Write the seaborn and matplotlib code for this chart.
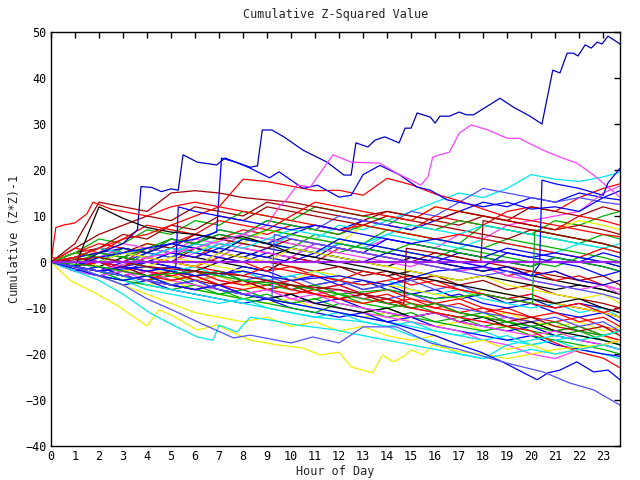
import pandas as pd
import numpy as np
import matplotlib
matplotlib.use("Agg")
import matplotlib.pyplot as plt
import seaborn as sns

# gnuplot-like line colours
RED = "#ff0000"
GREEN = "#00b000"
BLUE = "#0000ff"
MAGENTA = "#ff40ff"
CYAN = "#00e8f0"
DARKRED = "#a00000"
YELLOW = "#f0f000"
BLACK = "#000000"
SLATE = "#5050ff"
NAVY = "#0000c0"

# hourly grid for most runs
hours = list(range(24)) + [23.7]

b01 = [0, 2, 4, 3, 2, 4, 6, 5, 7, 6, 8, 7, 6, 9, 8, 7, 10, 9, 8, 11, 12, 11, 14, 16, 17]
b02 = [0, 1, 0, -1, 2, 1, 3, 2, 5, 4, 3, 6, 5, 4, 7, 6, 5, 4, 8, 7, 6, 9, 8, 10, 11]
b03 = [0, -1, -2, 0, 2, 5, 4, 6, 5, 4, 6, 8, 7, 9, 8, 7, 9, 11, 13, 12, 14, 13, 15, 14, 15.5]
b04 = [0, 1, 3, 2, 1, 0, 2, 1, 4, 3, 6, 5, 4, 3, 5, 4, 3, 6, 5, 8, 9, 10, 11, 15, 16.5]
b05 = [0, -1, 1, 3, 2, 4, 3, 5, 4, 3, 6, 5, 8, 7, 9, 11, 13, 15, 14, 16, 19, 18, 17.5, 18.5, 19.5]
b06 = [0, 3, 6, 8, 10, 9, 12, 11, 10, 13, 12, 11, 10, 9, 11, 10, 9, 8, 10, 9, 12, 11, 10, 12, 11]
b07 = [0, 1, 2, 1, 4, 3, 2, 5, 4, 7, 6, 5, 4, 8, 10, 9, 12, 11, 10, 9, 8, 7, 9, 8, 7]
b08 = [0, 0, -1, 1, 0, -1, -2, 0, -1, -2, 1, 0, -1, -2, -3, -2, -3, -4, -3, -4, -5, -6, -5, -6, -7]
b09 = [0, 2, 1, 3, 2, 1, 4, 7, 6, 9, 8, 7, 10, 9, 8, 11, 10, 13, 16, 15, 14, 13, 14, 13, 12.5]
b10 = [0, -1, -2, -3, -2, -3, -4, -3, -5, -4, -6, -5, -4, -6, -5, -7, -6, -8, -7, -9, -8, -10, -9, -10, -11]
b11 = [1, 0, -1, -3, -2, -4, -3, -5, -4, -6, -5, -7, -6, -8, -7, -9, -10, -9, -11, -10, -12, -13, -12, -14, -15]
b12 = [0, -2, -1, -3, -4, -3, -5, -6, -8, -7, -9, -8, -10, -11, -10, -12, -13, -12, -14, -13, -15, -16, -15, -17, -18]
b13 = [0, -1, -3, -2, 0, -1, -2, -3, -1, -2, -4, -3, -5, -4, -6, -7, -8, -7, -9, -10, -9, -11, -12, -11, -13]
b14 = [0, -1, 0, -2, -1, -3, -2, -4, -5, -4, -6, -7, -6, -8, -9, -10, -11, -12, -13, -12, -14, -13, -15, -16, -17]
b15 = [0, -1, -2, -4, -3, -5, -6, -7, -6, -8, -9, -10, -11, -12, -13, -14, -15, -16, -15, -17, -18, -17, -19, -20, -21]
b16 = [0, 1, 0, 2, 1, 0, 3, 2, 1, 0, -1, -2, -1, -3, -2, -4, -3, -5, -4, -6, -5, -7, -8, -9, -10]
b17 = [0, -1, -2, -3, -5, -4, -6, -7, -8, -9, -8, -10, -11, -12, -11, -13, -14, -13, -15, -14, -16, -15, -17, -16, -18]
b18 = [0, 1, 2, 1, 3, 2, 1, 0, 2, 1, 3, 2, 1, 0, -1, 1, 0, -1, -2, -1, -3, -4, -5, -6, -7]
b19 = [0, -1, -2, -1, -3, -2, -4, -3, -2, -4, -3, -5, -4, -6, -5, -4, -6, -5, -7, -8, -7, -9, -10, -11, -12]
b20 = [0, 1, 0, -1, 1, 0, -1, 2, 1, 3, 2, 1, 4, 3, 2, 1, 0, 2, 1, 0, -1, 1, 0, -1, -2]
b21 = [0, 2, 1, 0, 3, 2, 1, 4, 3, 2, 1, 0, 3, 2, 1, 0, -1, -2, -1, -3, -2, -4, -3, -5, -6]
b22 = [0, 1, 2, 1, 0, 2, 4, 3, 6, 5, 4, 3, 2, 4, 3, 2, 1, 3, 2, 1, 0, -1, 1, 0, -1]
b23 = [0, -2, -3, -5, -4, -6, -7, -8, -9, -8, -10, -11, -12, -11, -13, -12, -14, -15, -16, -17, -16, -18, -19, -20, -20.5]
b24 = [0, 2, 1, 3, 2, 5, 4, 3, 6, 5, 4, 3, 2, 1, 0, -1, 1, 0, -1, -2, -3, -2, -4, -5, -6]
b25 = [0, -1, 1, 0, -1, -2, -1, -3, -2, -4, -3, -2, -4, -5, -4, -6, -7, -6, -8, -9, -10, -9, -11, -10, -12]
b26 = [0, 2, 3, 2, 4, 3, 6, 5, 4, 3, 5, 4, 3, 2, 1, 0, 2, 1, 0, -1, -2, -3, -4, -3, -5]
b27 = [0, 1, -1, -2, -1, -3, -4, -3, -5, -6, -5, -7, -8, -9, -8, -10, -9, -11, -12, -11, -13, -14, -13, -15, -14]
b28 = [0, -1, -2, -4, -5, -6, -5, -7, -8, -9, -10, -11, -9, -10, -12, -11, -13, -14, -15, -14, -16, -17, -18, -19, -20]
b29 = [0, 1, 3, 2, 1, 0, -1, 1, 0, -2, -1, -3, -4, -2, -3, -5, -4, -6, -7, -8, -7, -9, -10, -11, -12]
b30 = [0, -1, 0, 2, 1, 3, 2, 1, 0, 2, 1, 4, 3, 2, 5, 4, 3, 2, 1, 3, 2, 1, 0, 2, 1]
b31 = [0, 1, 0, 2, 3, 2, 4, 3, 5, 4, 3, 2, 4, 3, 6, 5, 4, 3, 5, 4, 3, 2, 4, 3, 2]
b32 = [0, -1, -2, -3, -2, -4, -5, -6, -7, -6, -8, -9, -10, -11, -12, -13, -14, -15, -17, -18, -20, -21, -19, -18, -17]
b33 = [0, 1, 0, 3, 2, 5, 4, 7, 6, 9, 8, 7, 6, 8, 7, 6, 5, 4, 3, 5, 4, 3, 2, 1, 0]
b34 = [0, -1, -2, -3, -4, -2, -3, -5, -4, -6, -7, -6, -8, -7, -9, -8, -10, -11, -10, -12, -13, -15, -14, -16, -17]
b35 = [0, 2, 5, 4, 7, 6, 9, 8, 11, 10, 9, 12, 11, 10, 9, 8, 7, 9, 8, 7, 6, 5, 4, 6, 5]
b36 = [0, 1, 3, 6, 5, 8, 7, 10, 9, 12, 11, 10, 9, 8, 10, 9, 8, 7, 6, 5, 7, 6, 5, 4, 3]
b37 = [0, 3, 2, 5, 8, 7, 6, 9, 8, 7, 10, 13, 12, 11, 10, 9, 12, 11, 10, 9, 8, 7, 10, 9, 8]
b38 = [0, -2, -1, -3, -4, -5, -4, -6, -7, -8, -7, -9, -8, -10, -11, -12, -11, -13, -14, -15, -14, -16, -17, -18, -19]
b39 = [0, 1, 2, 4, 3, 2, 5, 4, 3, 2, 1, 4, 3, 2, 1, 0, -1, -2, -1, -3, -4, -5, -6, -5, -7]
b40 = [0, -2, -3, -4, -6, -7, -8, -9, -8, -10, -11, -12, -11, -13, -14, -13, -15, -16, -17, -16, -18, -17, -16, -17, -18]
b41 = [0, 2, 1, 0, -1, 1, 0, -1, -2, -3, -4, -2, -3, -4, -5, -6, -7, -8, -6, -7, -8, -9, -10, -11, -12]
b42 = [0, -1, -3, -4, -3, -5, -6, -7, -6, -8, -9, -8, -7, -9, -10, -9, -11, -12, -11, -13, -14, -15, -14, -16, -15]
b43 = [0, 1, 0, -1, -2, -1, -3, -2, -4, -3, -5, -6, -5, -7, -8, -7, -9, -10, -11, -12, -13, -12, -14, -13, -15]
b44 = [0, -1, 0, -2, -3, -4, -3, -5, -6, -5, -4, -6, -5, -7, -6, -8, -9, -8, -10, -11, -12, -11, -13, -12, -14]
b45 = [0, 1, 2, 3, 2, 4, 3, 2, 5, 4, 3, 2, 1, 0, 2, 1, 0, -1, -2, -1, -3, -2, -4, -5, -4]
b46 = [0, -1, -2, -1, -3, -2, -4, -5, -4, -6, -5, -7, -8, -7, -9, -10, -9, -11, -12, -13, -12, -14, -15, -14, -16]
b47 = [0, -1, -2, -3, -4, -5, -6, -5, -7, -8, -7, -9, -10, -11, -10, -12, -11, -13, -12, -14, -13, -15, -16, -17, -18]
b48 = [0, 0, 2, 1, 3, 5, 4, 6, 5, 7, 6, 5, 4, 3, 2, 4, 3, 2, 1, 0, -1, 1, 0, -1, -2]
b49 = [0, 1, 3, 2, 1, 3, 2, 4, 3, 5, 7, 6, 5, 4, 6, 8, 7, 6, 8, 7, 6, 5, 4, 3, 4]
b50 = [0, -2, -3, -2, -4, -5, -6, -5, -7, -6, -8, -7, -9, -10, -11, -12, -11, -13, -14, -15, -16, -15, -17, -18, -19]
b51 = [0, 1, 0, -1, 0, 2, 1, 3, 2, 1, 0, 2, 5, 4, 3, 2, 1, 0, -1, 2, 1, 0, -1, -3, -2]
b52 = [0, -1, -2, -1, 1, 0, -1, -2, -3, -1, -2, -3, -4, -5, -4, -3, -5, -6, -7, -8, -9, -10, -9, -11, -10]
b53 = [0, 1, 0, 2, 1, 0, -1, 2, 1, 0, 3, 2, 1, 0, -1, -2, -3, -4, -3, -5, -6, -7, -8, -7, -9]
b54 = [0, 2, 1, 0, -1, -2, -3, -2, -4, -5, -6, -5, -7, -8, -9, -10, -9, -11, -12, -13, -14, -13, -15, -16, -15]
u_darkred = [0, 4, 13, 12, 11, 15, 15.5, 15, 14, 13.5, 13, 12, 11, 10, 11, 10, 9, 11, 10, 9, 8, 7, 8, 7, 6]
u_black = [0, -1, 12, 9.5, 7.5, 6.5, 6, 5, 5.5, 4, 2, 1, 0, -1, -2, -3, -4, -5, -6, -7, -8, -9, -8, -10, -11]
u_red = [0, 1, 3, 5, 6, 8, 10, 12, 18, 17.5, 16.5, 15.5, 15.6, 14.5, 18.2, 16.8, 14.8, 13.3, 11.5, 9.8, 9, 8, 7, 6, 5.5]
low_red = [0, 1, 0, -1, -2, -3, -2, -4, -5, -4, -6, -7, -8, -9, -8, -10, -11, -12, -13, -14, -15, -17.6, -19.6, -20.9, -23]
low_yellow = [0, -1, -3, -5, -7, -9, -11, -12, -13, -12, -14, -13, -15, -14, -16, -17, -16, -18, -17, -19, -18, -20, -19, -18, -17]
low_cyan = [0, -1, -2, -3, -5, -6, -7, -8, -9, -10, -11, -12, -12.5, -13, -14, -16, -17.5, -20, -21, -18, -17, -16, -17, -16, -15]

# runs that need their own time points
top_h = [0, 1, 2, 3, 3.6, 3.75, 4.2, 4.6, 5.0, 5.3, 5.5, 6.1, 6.9, 7.25, 7.7, 8.3, 8.6, 8.8, 9.2, 9.7,
         10.5, 11.5, 12.2, 12.5, 12.7, 13.2, 13.5, 13.9, 14.5, 14.75, 15.0, 15.25, 15.8, 16.0, 16.2, 16.6,
         17.0, 17.3, 17.6, 18.4, 18.7, 19.25, 19.95, 20.45, 20.9, 21.2, 21.5, 21.75, 21.95, 22.25, 22.5,
         22.75, 22.95, 23.2, 23.7]
top_v = [0, -1, 2, 4, 7, 16.4, 16.2, 15.3, 15.9, 15.6, 23.3, 21.7, 21.1, 22.6, 21.7, 20.6, 20.9, 28.7, 28.7, 27.2,
         24.3, 21.7, 18.9, 18.9, 25.9, 25.0, 26.5, 27.2, 25.9, 29.1, 29.1, 32.4, 31.5, 30.2, 31.7, 31.7,
         32.6, 32.0, 32.0, 34.6, 35.6, 33.7, 31.7, 30.0, 41.7, 41.1, 45.4, 45.4, 44.8, 47.2, 46.5,
         47.8, 47.4, 49.1, 47.4]

blue2_h = [0, 1, 2, 3, 4, 5, 6, 6.9, 7.1, 7.7, 8.3, 9.1, 9.5, 10.5, 11.1, 12, 12.5, 13, 13.7, 14.5,
           15.25, 15.8, 16.5, 18, 19, 20, 21, 22, 23, 23.7]
blue2_v = [0, -1, 1, 2, 3, 4, 5, 6.5, 22.6, 21.7, 20.4, 18.3, 19.6, 16, 16.7, 14.1, 14.5, 19, 21, 19,
           16.3, 15.6, 13.5, 12, 13, 11.5, 12, 11, 14, 13.5]

mag_h = [0, 2, 4, 6, 8, 9, 9.5, 9.8, 10.25, 10.8, 11.3, 11.75, 12.5, 13.7, 14.4, 15, 15.4, 15.7, 15.9,
         16.2, 16.6, 17.0, 17.5, 18.2, 19, 19.5, 20.5, 21.3, 21.9, 22.6, 23.7]
mag_v = [0, -2, 1, 3, 6, 8, 12, 13.5, 16.7, 16.3, 20, 23.3, 21.7, 21.5, 19.3, 17.8, 16.7, 18.5, 22.8,
         23.3, 23.9, 28, 29.8, 28.7, 26.9, 26.9, 24.3, 22.6, 21.5, 18.9, 14.1]

red8_h = [0, 0.2, 0.5, 1, 1.5, 1.75, 2.5, 3, 4, 5, 6, 7, 8, 9, 10, 11, 12, 13, 14, 15, 16, 17, 18, 19,
          20, 21, 22, 23, 23.7]
red8_v = [0, 7.5, 8, 8.5, 10.5, 13, 11.5, 11, 10, 12, 13, 12, 11, 10, 9, 8, 7, 8, 7, 6, 5, 6, 5, 4,
          3, 2, 1, 3, 2]

yel_h = [0, 0.8, 1.75, 2.75, 4, 4.5, 5, 6.1, 6.9, 8.3, 9.4, 10.5, 11.2, 12, 12.5, 13.4, 13.8, 14.25,
         14.7, 15, 15.5, 15.9, 17, 18, 19, 20, 21, 22, 23, 23.7]
yel_v = [0, -4, -6.5, -9.4, -13.9, -10.4, -11.5, -14.8, -13.7, -17, -18, -18.7, -20.2, -19.6, -22.8,
         -24.1, -20.2, -21.7, -20.5, -19.1, -20.2, -18, -19.5, -20, -21, -20, -19, -18.5, -18]

cyan_h = [0, 1, 2, 3, 4.1, 5, 6.1, 6.75, 7.0, 7.75, 8.3, 9, 10.25, 11.9, 12.5, 13, 14, 15, 16, 17, 18,
          19, 20, 21, 22, 23, 23.7]
cyan_v = [0, -2, -4, -7, -11, -13.5, -16.3, -17, -13.7, -15.2, -12, -12.5, -13.7, -14.8, -15.5, -16,
          -17, -18, -19, -20, -21, -20, -19, -20, -19, -18, -19]

bluelow_h = [0, 1, 2, 3, 4, 5, 6, 7, 8, 9, 10, 11, 12, 13, 14, 15, 16, 17, 17.9, 18.8, 20.25, 20.7,
             21.2, 21.9, 22.6, 23.2, 23.7]
bluelow_v = [0, -1.5, -3, -4, -3, -5, -6, -5, -7, -8, -9, -10, -11, -12, -13, -14.5, -16, -18, -19.6,
             -21.7, -25.6, -24.1, -23.5, -21.7, -23.9, -23.5, -25.6]

slate_h = [0, 1, 2, 3, 4, 5.25, 6.1, 7.6, 8.3, 10, 10.9, 12, 13, 14.4, 15.8, 17, 18, 19, 20.5, 21.6,
           22.6, 23.7]
slate_v = [0, -1, -3, -5, -8, -10.9, -13, -16.5, -15.9, -17.6, -16.3, -17.6, -14.1, -14.1, -17.6, -19,
           -20.5, -22, -23.9, -26.3, -27.8, -31.1]

jump_h = [0, 2, 4, 6, 8, 10, 12, 14, 16, 18, 19, 20, 20.35, 20.45, 21, 22, 23, 23.2, 23.7]
jump_v = [0, -2, -1, -3, -2, -4, -3, -5, -2, -1, -2, -3, -0.5, 17.8, 17, 16, 14.5, 17.2, 20.4]

jump2_h = [0, 1, 2, 3, 4, 5.2, 5.3, 6, 7, 8, 9, 10, 11, 12, 13, 14, 15, 16, 17, 18, 19, 20, 21, 22, 23, 23.7]
jump2_v = [0, -1, -2, -1, -2, -1, 12, 11, 10, 9, 8, 7, 8, 7, 6, 5, 4, 5, 4, 3, 2, 1, 2, 1, 0, -1]

jump3_h = [0, 1, 2, 3, 4, 5, 6, 7, 8, 9.2, 9.3, 10, 11, 12, 13, 14, 15, 16, 17, 18, 19, 20, 21, 22, 23, 23.7]
jump3_v = [0, -1, -2, -3, -4, -5, -4, -6, -7, -8, 6, 5, 4, 3, 2, 1, 0, -1, -2, -3, -2, -4, -5, -6, -7, -8]

jump4_h = [0, 2, 4, 6, 8, 10, 12, 14, 16, 18, 19, 20.05, 20.15, 21, 22, 23, 23.7]
jump4_v = [0, -1, -3, -2, -4, -5, -7, -6, -8, -7, -8, -9, 7, 6, 5, 4, 3]

jump5_h = [0, 2, 4, 6, 8, 10, 12, 13, 14, 14.7, 14.8, 16, 17, 17.9, 18.0, 19, 20, 21, 22, 23, 23.7]
jump5_v = [0, 1, -1, -2, -3, -5, -6, -7, -8, -9, 3, 2, 1, 0, 9, 8, 7, 6, 5, 4, 3]

hourly_runs = [
    (b01, RED), (b02, GREEN), (b03, BLUE), (b04, MAGENTA), (b05, CYAN), (b06, DARKRED),
    (b07, YELLOW), (b08, BLACK), (b09, SLATE), (b10, NAVY), (b11, RED), (b12, GREEN),
    (b13, BLUE), (b14, MAGENTA), (b15, CYAN), (b16, DARKRED), (b17, YELLOW), (b18, BLACK),
    (b19, SLATE), (b20, NAVY), (b21, RED), (b22, GREEN), (b23, BLUE), (b24, MAGENTA),
    (b25, CYAN), (b26, DARKRED), (b27, YELLOW), (b28, GREEN), (b29, RED), (b30, BLUE),
    (b31, CYAN), (b32, MAGENTA), (b33, GREEN), (b34, RED), (b35, GREEN), (b36, DARKRED),
    (b37, RED), (b38, BLUE), (b39, MAGENTA), (b40, CYAN), (b41, YELLOW), (b42, GREEN),
    (b43, SLATE), (b44, RED), (b45, NAVY), (b46, DARKRED), (b47, BLACK), (b48, GREEN),
    (b49, CYAN), (b50, MAGENTA), (b51, BLUE), (b52, RED), (b53, YELLOW), (b54, GREEN),
    (u_darkred, DARKRED), (u_black, BLACK), (u_red, RED), (low_red, RED),
    (low_yellow, YELLOW), (low_cyan, CYAN),
]
own_runs = [
    (top_h, top_v, NAVY), (blue2_h, blue2_v, BLUE), (mag_h, mag_v, MAGENTA),
    (red8_h, red8_v, RED), (yel_h, yel_v, YELLOW), (cyan_h, cyan_v, CYAN),
    (bluelow_h, bluelow_v, BLUE), (slate_h, slate_v, SLATE), (jump_h, jump_v, BLUE),
    (jump2_h, jump2_v, BLUE), (jump3_h, jump3_v, SLATE), (jump4_h, jump4_v, GREEN),
    (jump5_h, jump5_v, DARKRED),
]

# long table for seaborn
rows = []
palette = {}
for i, (vals, col) in enumerate(hourly_runs):
    name = f"h{i:02d}"
    palette[name] = col
    for h, v in zip(hours, vals):
        rows.append((name, h, v))
for i, (hs, vals, col) in enumerate(own_runs):
    name = f"o{i:02d}"
    palette[name] = col
    for h, v in zip(hs, vals):
        rows.append((name, h, v))
df = pd.DataFrame(rows, columns=["run", "hour", "value"])

sns.set_style("white")
plt.rcParams["font.family"] = ["DejaVu Sans Mono"]

fig = plt.figure(figsize=(6.4, 4.8), dpi=100)
ax = fig.add_axes([51 / 640, 34 / 480, 569 / 640, 414 / 480])

sns.lineplot(data=df, x="hour", y="value", hue="run", palette=palette,
             estimator=None, sort=False, legend=False, linewidth=0.9, ax=ax)
ax.axhline(0, color="#a020f0", linewidth=1.6)

ax.set_xlim(0, 23.7)
ax.set_ylim(-40, 50)
ax.set_xticks(range(24))
ax.set_yticks(range(-40, 51, 10))
ax.tick_params(direction="in", length=4, width=1, top=True, right=True,
               labelsize=8.5, colors="black", pad=3)
for s in ax.spines.values():
    s.set_color("black")
    s.set_linewidth(1)

ax.set_title("Cumulative Z-Squared Value", fontsize=8.5, pad=10)
ax.set_xlabel("Hour of Day", fontsize=8.5, labelpad=1)
ax.set_ylabel("Cumulative (Z*Z)-1", fontsize=8.5, labelpad=3)

fig.savefig("out.png", dpi=100)
